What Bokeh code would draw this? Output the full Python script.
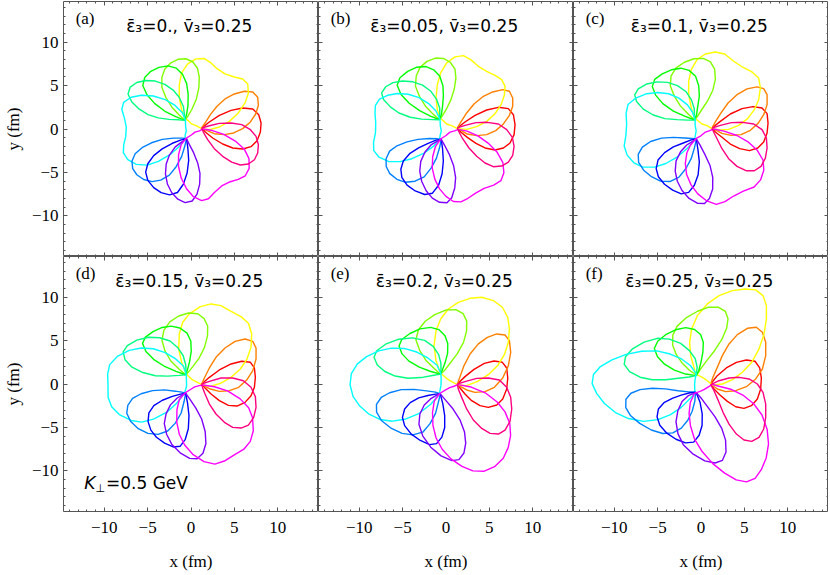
import numpy as np
from bokeh.plotting import figure
from bokeh.layouts import gridplot
from bokeh.models import Range1d, LinearAxis, FixedTicker, Label, ColumnDataSource
from bokeh.embed import file_html
from bokeh.resources import INLINE

# ---------------- data (fm) ----------------
PANEL_LETTERS = ["(a)", "(b)", "(c)", "(d)", "(e)", "(f)"]
EPS3 = ["0.", "0.05", "0.1", "0.15", "0.2", "0.25"]
V3 = ["0.25", "0.25", "0.25", "0.25", "0.25", "0.25"]
TICKS = [-10, -5, 0, 5, 10]
TICK_LABELS = ["\u221210", "\u22125", "0", "5", "10"]
MINOR_TICKS = [-14, -13, -12, -11, -9, -8, -7, -6, -4, -3, -2, -1, 1, 2, 3, 4, 6, 7, 8, 9, 11, 12, 13, 14]

# loops for phi_K = 0 (red), 30 (orange), 60 (yellow), 330 (rose) in each panel;
# the other hues are the same loops turned by 120 and 240 degrees (triangular symmetry)
RED_A_X = [1.23, 2.12, 3.27, 4.62, 5.96, 7.12, 7.81, 8.08, 8.0, 7.62, 6.92, 5.96, 4.81, 3.65, 2.5, 1.65]
RED_A_Y = [0.12, 0.81, 1.58, 2.15, 2.42, 2.31, 1.65, 0.69, -0.35, -1.35, -2.04, -2.31, -2.19, -1.73, -1.04, -0.35]
ORANGE_A_X = [1.23, 1.62, 2.23, 3.0, 3.92, 5.0, 6.15, 7.12, 7.69, 7.77, 7.46, 6.85, 5.96, 4.92, 3.85, 2.69, 1.85]
ORANGE_A_Y = [0.12, 0.69, 1.65, 2.62, 3.46, 4.04, 4.35, 4.27, 3.65, 2.73, 1.73, 0.81, 0.04, -0.46, -0.65, -0.54, -0.19]
ROSE_A_X = [1.23, 2.12, 3.27, 4.62, 5.85, 6.85, 7.5, 7.77, 7.69, 7.31, 6.62, 5.69, 4.69, 3.65, 2.69, 1.92, 1.42]
ROSE_A_Y = [0.12, 0.38, 0.65, 0.69, 0.5, -0.08, -0.85, -1.81, -2.77, -3.54, -4.04, -4.15, -3.81, -3.15, -2.27, -1.23, -0.35]
YELLOW_A_X = [-0.69, -1.08, -1.35, -1.35, -1.08, -0.38, 0.58, 1.54, 2.31, 3.0, 3.92, 5.0, 5.96, 6.54, 6.62, 6.23, 5.46, 4.42, 3.27, 2.12, 1.23, 0.58, 0.08, -0.31]
YELLOW_A_Y = [1.19, 2.23, 3.58, 5.12, 6.46, 7.5, 8.08, 8.12, 7.62, 6.96, 6.35, 6.0, 5.77, 5.19, 4.15, 3.0, 1.85, 0.88, 0.23, -0.08, 0.04, 0.38, 0.58, 0.96]

RED_B_X = [1.31, 2.19, 3.35, 4.69, 6.04, 7.19, 7.77, 7.96, 7.85, 7.38, 6.62, 5.65, 4.5, 3.46, 2.46, 1.69]
RED_B_Y = [0.12, 0.81, 1.58, 2.19, 2.5, 2.35, 1.65, 0.5, -0.65, -1.62, -2.19, -2.42, -2.19, -1.65, -0.96, -0.35]
ORANGE_B_X = [1.31, 1.69, 2.38, 3.23, 4.31, 5.38, 6.54, 7.31, 7.69, 7.69, 7.31, 6.62, 5.73, 4.69, 3.54, 2.46, 1.77]
ORANGE_B_Y = [0.12, 0.77, 1.85, 2.88, 3.77, 4.27, 4.54, 4.35, 3.58, 2.62, 1.58, 0.58, -0.19, -0.65, -0.77, -0.58, -0.19]
ROSE_B_X = [1.31, 2.19, 3.46, 4.77, 6.04, 7.0, 7.65, 7.85, 7.69, 7.19, 6.42, 5.46, 4.5, 3.54, 2.65, 1.92, 1.5]
ROSE_B_Y = [0.12, 0.42, 0.73, 0.77, 0.58, -0.08, -0.96, -2.0, -3.04, -3.81, -4.27, -4.35, -3.92, -3.15, -2.19, -1.12, -0.35]
YELLOW_B_X = [-0.69, -1.0, -1.15, -1.0, -0.62, 0.08, 1.04, 2.0, 2.85, 3.73, 4.69, 5.65, 6.42, 6.81, 6.73, 6.35, 5.65, 4.69, 3.54, 2.38, 1.31, 0.65, 0.08, -0.31]
YELLOW_B_Y = [1.27, 2.23, 3.58, 5.12, 6.46, 7.62, 8.31, 8.46, 8.0, 7.23, 6.65, 6.19, 5.69, 4.92, 3.88, 2.81, 1.77, 0.88, 0.27, -0.04, 0.04, 0.38, 0.58, 0.96]

RED_C_X = [1.27, 2.23, 3.38, 4.73, 6.0, 7.04, 7.62, 7.73, 7.62, 7.23, 6.54, 5.58, 4.46, 3.38, 2.42, 1.65]
RED_C_Y = [0.12, 0.88, 1.73, 2.35, 2.58, 2.42, 1.77, 0.69, -0.46, -1.5, -2.19, -2.5, -2.27, -1.73, -0.96, -0.35]
ORANGE_C_X = [1.27, 1.65, 2.31, 3.12, 4.15, 5.31, 6.46, 7.23, 7.62, 7.62, 7.23, 6.58, 5.69, 4.62, 3.46, 2.42, 1.77]
ORANGE_C_Y = [0.12, 0.81, 1.85, 3.0, 3.96, 4.62, 4.85, 4.65, 3.96, 2.81, 1.65, 0.65, -0.15, -0.65, -0.73, -0.5, -0.15]
ROSE_C_X = [1.27, 2.23, 3.5, 4.81, 6.08, 7.04, 7.54, 7.62, 7.42, 6.92, 6.15, 5.19, 4.15, 3.19, 2.42, 1.85, 1.46]
ROSE_C_Y = [0.12, 0.42, 0.73, 0.77, 0.58, -0.08, -1.04, -2.19, -3.35, -4.31, -4.81, -4.81, -4.31, -3.42, -2.27, -1.12, -0.35]
YELLOW_C_X = [-0.73, -1.12, -1.42, -1.42, -1.12, -0.46, 0.5, 1.65, 2.73, 3.77, 4.81, 5.88, 6.65, 6.85, 6.65, 6.15, 5.38, 4.35, 3.19, 2.23, 1.27, 0.69, 0.12, -0.35]
YELLOW_C_Y = [1.27, 2.42, 3.96, 5.5, 6.85, 8.0, 8.65, 8.88, 8.65, 7.81, 7.12, 6.58, 5.88, 4.73, 3.38, 2.23, 1.19, 0.42, -0.04, -0.12, 0.04, 0.38, 0.58, 0.96]

RED_D_X = [1.23, 2.12, 3.27, 4.62, 5.85, 6.85, 7.31, 7.42, 7.31, 6.92, 6.23, 5.31, 4.31, 3.27, 2.31, 1.62]
RED_D_Y = [0.0, 0.77, 1.62, 2.31, 2.62, 2.5, 1.85, 0.77, -0.38, -1.35, -2.12, -2.54, -2.46, -1.92, -1.15, -0.46]
ORANGE_D_X = [1.23, 1.54, 2.12, 2.88, 3.92, 5.08, 6.23, 7.12, 7.5, 7.5, 7.12, 6.42, 5.5, 4.42, 3.27, 2.23, 1.62]
ORANGE_D_Y = [0.0, 0.69, 1.85, 3.08, 4.15, 4.92, 5.19, 4.92, 4.15, 2.88, 1.54, 0.46, -0.38, -0.77, -0.85, -0.58, -0.27]
ROSE_D_X = [1.23, 2.12, 3.46, 4.81, 6.04, 6.92, 7.42, 7.5, 7.23, 6.62, 5.77, 4.81, 3.85, 2.88, 2.12, 1.62, 1.35]
ROSE_D_Y = [0.0, 0.31, 0.69, 0.69, 0.38, -0.38, -1.46, -2.69, -3.85, -4.73, -5.08, -5.0, -4.42, -3.46, -2.31, -1.15, -0.46]
YELLOW_D_X = [-0.58, -1.08, -1.42, -1.35, -0.96, -0.19, 1.08, 2.31, 3.46, 4.62, 5.77, 6.62, 7.0, 6.92, 6.46, 5.69, 4.62, 3.38, 2.23, 1.23, 0.58, 0.08, -0.31]
YELLOW_D_Y = [1.23, 2.5, 4.04, 5.77, 7.12, 8.08, 8.92, 9.23, 9.04, 8.38, 7.77, 7.0, 5.77, 4.23, 2.88, 1.73, 0.77, 0.08, -0.27, -0.08, 0.27, 0.54, 0.92]

RED_E_X = [1.31, 2.19, 3.23, 4.42, 5.54, 6.5, 7.0, 7.12, 7.0, 6.54, 5.85, 4.88, 3.92, 2.96, 2.19, 1.62]
RED_E_Y = [0.0, 0.85, 1.69, 2.38, 2.65, 2.5, 1.85, 0.69, -0.58, -1.73, -2.42, -2.69, -2.5, -1.92, -1.15, -0.46]
ORANGE_E_X = [1.31, 1.62, 2.08, 2.77, 3.73, 4.77, 5.85, 6.81, 7.31, 7.46, 7.19, 6.54, 5.58, 4.5, 3.35, 2.38, 1.69]
ORANGE_E_Y = [0.0, 0.85, 2.12, 3.46, 4.62, 5.38, 5.77, 5.65, 5.0, 3.65, 2.12, 0.69, -0.38, -0.88, -0.96, -0.69, -0.31]
ROSE_E_X = [1.31, 2.19, 3.54, 4.88, 6.15, 7.0, 7.46, 7.58, 7.38, 6.81, 6.04, 5.08, 4.12, 3.15, 2.38, 1.81, 1.42]
ROSE_E_Y = [0.0, 0.27, 0.65, 0.69, 0.46, -0.38, -1.54, -2.88, -4.31, -5.31, -5.77, -5.69, -5.12, -4.15, -2.88, -1.54, -0.58]
YELLOW_E_X = [-0.62, -1.15, -1.38, -1.15, -0.62, 0.27, 1.42, 2.77, 4.12, 5.46, 6.5, 7.12, 7.31, 7.19, 6.73, 5.96, 4.88, 3.65, 2.38, 1.31, 0.65, 0.15, -0.23]
YELLOW_E_Y = [1.23, 2.69, 4.42, 6.15, 7.5, 8.65, 9.42, 9.88, 10.0, 9.62, 8.85, 7.69, 6.35, 4.81, 3.38, 2.12, 1.08, 0.31, -0.19, -0.08, 0.27, 0.58, 0.92]

RED_F_X = [1.12, 1.88, 2.92, 4.08, 5.23, 6.23, 6.77, 6.96, 6.88, 6.5, 5.81, 4.96, 4.0, 3.04, 2.19, 1.5]
RED_F_Y = [0.0, 0.96, 1.85, 2.5, 2.77, 2.62, 1.85, 0.69, -0.58, -1.73, -2.5, -2.81, -2.62, -2.0, -1.27, -0.58]
ORANGE_F_X = [1.12, 1.38, 1.88, 2.46, 3.23, 4.19, 5.35, 6.38, 7.08, 7.46, 7.46, 7.08, 6.31, 5.23, 4.0, 2.85, 1.88]
ORANGE_F_Y = [0.0, 0.77, 1.92, 3.27, 4.62, 5.69, 6.42, 6.54, 5.96, 4.81, 3.27, 1.73, 0.58, -0.31, -0.77, -0.88, -0.58]
ROSE_F_X = [1.12, 2.08, 3.23, 4.38, 5.54, 6.5, 7.15, 7.46, 7.46, 7.23, 6.69, 5.85, 4.96, 4.08, 3.23, 2.54, 2.0, 1.5]
ROSE_F_Y = [-0.08, 0.38, 0.69, 0.77, 0.58, 0.0, -0.96, -2.31, -3.85, -5.19, -6.15, -6.62, -6.46, -5.77, -4.62, -3.27, -1.92, -0.77]
YELLOW_F_X = [-0.6, -0.81, -1.19, -1.31, -1.08, -0.42, 0.73, 2.08, 3.62, 5.08, 6.31, 7.15, 7.54, 7.54, 7.27, 6.69, 5.85, 4.77, 3.62, 2.46, 1.31, 0.73, 0.35, -0.23]
YELLOW_F_Y = [1.1, 1.92, 3.27, 4.81, 6.35, 7.88, 9.23, 10.19, 10.77, 10.96, 10.85, 10.19, 9.04, 7.5, 5.77, 4.04, 2.5, 1.35, 0.5, 0.0, -0.12, 0.38, 0.65, 0.96]

# hue of each emission-zone loop (phi_K = 0, 30, ..., 330 deg)
HUE_COLORS = ["#FF0000", "#FF8000", "#FFFF00", "#80FF00", "#00FF00", "#00FF80",
              "#00FFFF", "#0080FF", "#0000FF", "#8000FF", "#FF00FF", "#FF0080"]
# which read loop and which turn (deg) gives each hue
HUE_SOURCE = ["red", "orange", "yellow", "rose", "red", "orange",
              "yellow", "rose", "red", "orange", "yellow", "rose"]
HUE_TURN = [0, 0, 0, 120, 120, 120, 120, 240, 240, 240, 240, 0]

PANELS = [
    {"red": (RED_A_X, RED_A_Y), "orange": (ORANGE_A_X, ORANGE_A_Y), "rose": (ROSE_A_X, ROSE_A_Y), "yellow": (YELLOW_A_X, YELLOW_A_Y)},
    {"red": (RED_B_X, RED_B_Y), "orange": (ORANGE_B_X, ORANGE_B_Y), "rose": (ROSE_B_X, ROSE_B_Y), "yellow": (YELLOW_B_X, YELLOW_B_Y)},
    {"red": (RED_C_X, RED_C_Y), "orange": (ORANGE_C_X, ORANGE_C_Y), "rose": (ROSE_C_X, ROSE_C_Y), "yellow": (YELLOW_C_X, YELLOW_C_Y)},
    {"red": (RED_D_X, RED_D_Y), "orange": (ORANGE_D_X, ORANGE_D_Y), "rose": (ROSE_D_X, ROSE_D_Y), "yellow": (YELLOW_D_X, YELLOW_D_Y)},
    {"red": (RED_E_X, RED_E_Y), "orange": (ORANGE_E_X, ORANGE_E_Y), "rose": (ROSE_E_X, ROSE_E_Y), "yellow": (YELLOW_E_X, YELLOW_E_Y)},
    {"red": (RED_F_X, RED_F_Y), "orange": (ORANGE_F_X, ORANGE_F_Y), "rose": (ROSE_F_X, ROSE_F_Y), "yellow": (YELLOW_F_X, YELLOW_F_Y)},
]

# ---------------- drawing ----------------
LIM = 14.7
FW, FH = 255, 255
SERIF = "Liberation Serif"
SANS = "DejaVu Sans"
FRAME = "#555555"


def turned(xs, ys, deg):
    t = np.deg2rad(deg)
    xs = np.asarray(list(xs) + [xs[0]], dtype=float)
    ys = np.asarray(list(ys) + [ys[0]], dtype=float)
    return list(xs * np.cos(t) - ys * np.sin(t)), list(xs * np.sin(t) + ys * np.cos(t))


def tick_axis(ticks, minors, major_len, minor_len):
    return LinearAxis(ticker=FixedTicker(ticks=ticks, minor_ticks=minors),
                      major_tick_in=major_len, major_tick_out=0,
                      minor_tick_in=minor_len, minor_tick_out=0,
                      axis_line_color=None, major_tick_line_color=FRAME,
                      minor_tick_line_color=FRAME)


def labelled_axis(p, side, title):
    ax = tick_axis(TICKS, MINOR_TICKS, 4, 2)
    ax.major_label_overrides = dict(zip(TICKS, TICK_LABELS))
    ax.major_label_text_font = SERIF
    ax.major_label_text_font_size = "17px"
    ax.major_label_text_color = "black"
    ax.axis_label = title
    ax.axis_label_text_font = SERIF
    ax.axis_label_text_font_size = "17px"
    ax.axis_label_text_font_style = "normal"
    ax.axis_label_text_color = "black"
    if side == "left":
        ax.major_label_standoff = 5
        ax.axis_label_standoff = 6
    else:
        ax.major_label_standoff = 10
        ax.axis_label_standoff = 16
    p.add_layout(ax, side)


def bare_axis(p, side):
    # ticks only, no labels: major marks and minor marks as two label-free tick rows
    p.add_layout(tick_axis([], TICKS, 0, 4), side)
    p.add_layout(tick_axis([], MINOR_TICKS, 0, 2), side)


figs = []
for i, loops in enumerate(PANELS):
    row, col = divmod(i, 3)
    p = figure(frame_width=FW, frame_height=FH, x_range=Range1d(-LIM, LIM), y_range=Range1d(-LIM, LIM),
               x_axis_type=None, y_axis_type=None, output_backend="svg", toolbar_location=None,
               min_border=0, background_fill_color="white", border_fill_color="white")
    if row == 0:
        p.min_border_top = 1
    p.outline_line_color = FRAME
    p.outline_line_width = 1
    if col == 0:
        labelled_axis(p, "left", "y (fm)")
    else:
        bare_axis(p, "left")
    if row == 1:
        labelled_axis(p, "below", "x (fm)")
    else:
        bare_axis(p, "below")
    bare_axis(p, "right")
    bare_axis(p, "above")

    xs_all, ys_all = [], []
    for name, turn in zip(HUE_SOURCE, HUE_TURN):
        bx, by = loops[name]
        tx, ty = turned(bx, by, turn)
        xs_all.append(tx)
        ys_all.append(ty)
    src = ColumnDataSource(dict(xs=xs_all, ys=ys_all, color=HUE_COLORS))
    p.multi_line(xs="xs", ys="ys", line_color="color", line_width=1.4, line_join="round", source=src)

    p.add_layout(Label(x=-13.3, y=12.7, text=PANEL_LETTERS[i], text_font=SERIF, text_font_size="17px",
                       text_baseline="middle", text_align="left", text_color="black"))
    p.add_layout(Label(x=-0.2, y=11.9, text="\u03b5\u0304\u2083=" + EPS3[i] + ", v\u0304\u2083=" + V3[i],
                       text_font=SANS, text_font_size="17px", text_baseline="middle",
                       text_align="center", text_color="black"))
    if i == 3:
        p.add_layout(Label(x=-12.3, y=-11.4, text="K", text_font=SANS, text_font_size="17px",
                           text_font_style="italic", text_baseline="middle", text_color="black"))
        p.add_layout(Label(x=-11.0, y=-12.0, text="\u22a5", text_font=SANS, text_font_size="11px",
                           text_baseline="middle", text_color="black"))
        p.add_layout(Label(x=-9.8, y=-11.4, text="=0.5 GeV", text_font=SANS, text_font_size="17px",
                           text_baseline="middle", text_color="black"))
    figs.append(p)

grid = gridplot([figs[0:3], figs[3:6]], toolbar_location=None)
open("out.html", "w").write(file_html(grid, INLINE))
